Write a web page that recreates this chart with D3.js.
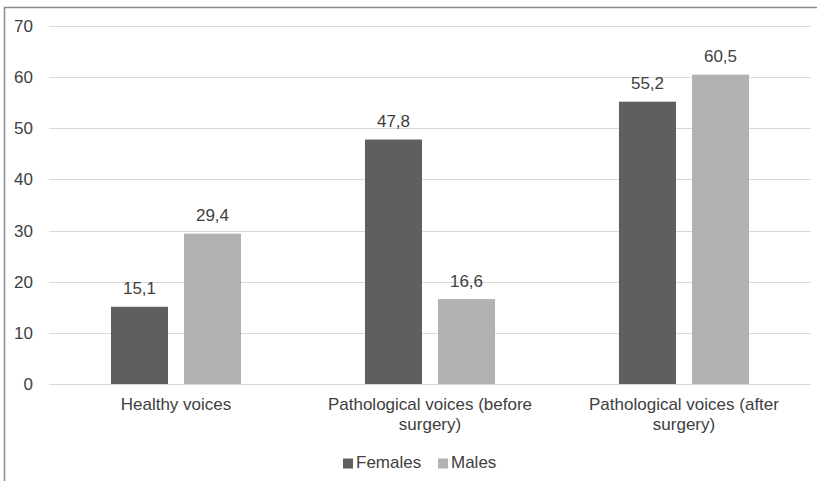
<!DOCTYPE html>
<html>
<head>
<meta charset="utf-8">
<script src="https://cdn.jsdelivr.net/npm/d3@7"></script>
<style>
  html, body { margin: 0; padding: 0; background: #fff; }
  svg { display: block; font-family: "Liberation Sans", Arial, Helvetica, sans-serif; }
</style>
</head>
<body>
<svg id="chart" width="817" height="481"></svg>
<script>
// Chart data
const categories = ["Healthy voices", "Pathological voices (before surgery)", "Pathological voices (after surgery)"];
const seriesNames = ["Females", "Males"];
const females = [15.1, 47.8, 55.2];
const males = [29.4, 16.6, 60.5];
const yTicks = [0, 10, 20, 30, 40, 50, 60, 70];

const colors = { Females: "#5f5f5f", Males: "#b2b2b2" };
const textColor = "#404040";
const fontSize = 17;

const svg = d3.select("#chart");
const W = 817, H = 481;

// outer frame (left and top edges)
svg.append("path")
  .attr("d", `M4.5,${H} V7.5 H${W}`)
  .attr("fill", "none")
  .attr("stroke", "#8a8a8a")
  .attr("stroke-width", 1.5);

const plot = { left: 49, right: 811, top: 26, bottom: 384 };

const x0 = d3.scaleBand()
  .domain(categories)
  .range([plot.left, plot.right])
  .paddingInner(0)
  .paddingOuter(0);

const y = d3.scaleLinear()
  .domain([0, 70])
  .range([plot.bottom, plot.top]);

// gridlines
svg.append("g")
  .selectAll("line")
  .data(yTicks)
  .join("line")
  .attr("x1", plot.left)
  .attr("x2", plot.right)
  .attr("y1", d => Math.round(y(d)) + 0.5)
  .attr("y2", d => Math.round(y(d)) + 0.5)
  .attr("stroke", "#d9d9d9")
  .attr("stroke-width", 1);

// y axis labels
const yAxis = d3.axisLeft(y).tickValues(yTicks).tickSize(0).tickPadding(0);
const yg = svg.append("g")
  .attr("transform", `translate(33,0)`)
  .call(yAxis);
yg.select(".domain").remove();
yg.selectAll("text")
  .attr("fill", textColor)
  .attr("font-size", fontSize)
  .attr("font-family", "Liberation Sans, Arial, sans-serif");

// bars
const bw = x0.bandwidth();
const barW = bw * 0.2245;
const barGap = bw * 0.063;
const x1 = d3.scaleOrdinal()
  .domain(seriesNames)
  .range([bw / 2 - barGap / 2 - barW, bw / 2 + barGap / 2]);

const rows = categories.map((c, i) => ({
  category: c,
  values: [
    { key: "Females", value: females[i] },
    { key: "Males", value: males[i] }
  ]
}));

const groups = svg.append("g")
  .selectAll("g")
  .data(rows)
  .join("g")
  .attr("transform", d => `translate(${x0(d.category)},0)`);

groups.selectAll("rect")
  .data(d => d.values)
  .join("rect")
  .attr("x", d => x1(d.key))
  .attr("y", d => y(d.value))
  .attr("width", barW)
  .attr("height", d => y(0) - y(d.value))
  .attr("fill", d => colors[d.key]);

const fmt = v => d3.format(".1f")(v).replace(".", ",");

groups.selectAll("text.val")
  .data(d => d.values)
  .join("text")
  .attr("class", "val")
  .attr("x", d => x1(d.key) + barW / 2)
  .attr("y", d => y(d.value) - 12.5)
  .attr("text-anchor", "middle")
  .attr("fill", textColor)
  .attr("font-size", fontSize)
  .text(d => fmt(d.value));

// category labels, wrapped to the band width
const catLabels = svg.append("g")
  .selectAll("text")
  .data(categories)
  .join("text")
  .attr("x", d => x0(d) + bw / 2)
  .attr("y", 410)
  .attr("text-anchor", "middle")
  .attr("fill", textColor)
  .attr("font-size", fontSize);

catLabels.each(function(d) {
  const t = d3.select(this);
  const words = d.split(" ");
  const cx = +t.attr("x");
  const maxW = 232;
  let line = [];
  let tspan = t.append("tspan").attr("x", cx).attr("dy", 0);
  for (const w of words) {
    line.push(w);
    tspan.text(line.join(" "));
    if (tspan.node().getComputedTextLength() > maxW && line.length > 1) {
      line.pop();
      tspan.text(line.join(" "));
      line = [w];
      tspan = t.append("tspan").attr("x", cx).attr("dy", 20).text(w);
    }
  }
});

// legend
const legend = svg.append("g");
const legendItems = [
  { key: "Females", x: 343 },
  { key: "Males", x: 438 }
];
legendItems.forEach(it => {
  legend.append("rect")
    .attr("x", it.x)
    .attr("y", 458.5)
    .attr("width", 10)
    .attr("height", 10)
    .attr("fill", colors[it.key]);
  legend.append("text")
    .attr("x", it.x + 13)
    .attr("y", 468)
    .attr("fill", textColor)
    .attr("font-size", fontSize)
    .text(it.key);
});
</script>
</body>
</html>
